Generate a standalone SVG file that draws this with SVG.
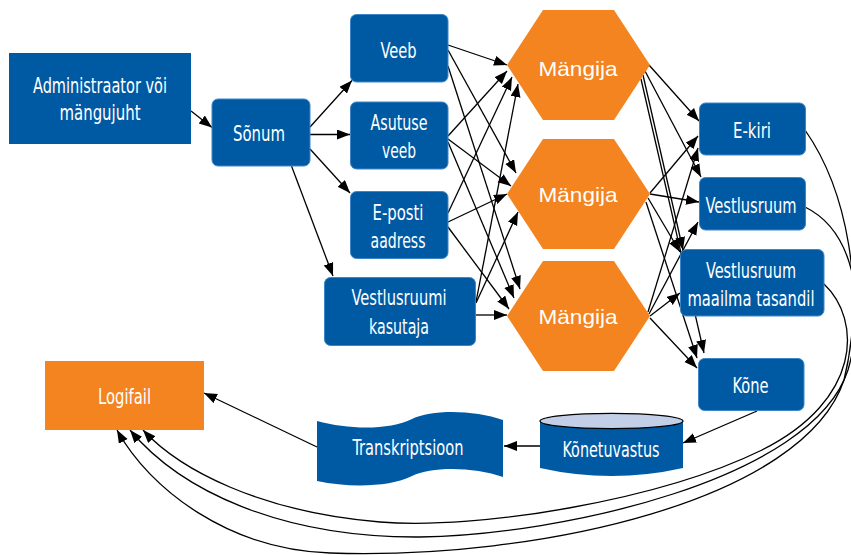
<svg xmlns="http://www.w3.org/2000/svg" width="851" height="555" viewBox="0 0 851 555">
  <defs>
    <marker id="arrow" markerUnits="userSpaceOnUse" markerWidth="14" markerHeight="11" refX="13" refY="5" orient="auto">
      <path d="M0,0 L13,5 L0,10 Z" fill="#000"/>
    </marker>
    <style>
      .box { fill: #005aa3; }
      .rbox { fill: #005aa3; stroke: #3f86c8; stroke-width: 1; }
      .orange { fill: #f3841f; }
      .lbl { font-family: "Liberation Sans Narrow", "DejaVu Sans Condensed", "Liberation Sans", sans-serif; font-size: 21px; fill: #fff; text-anchor: middle; }
      .hx { font-family: "Liberation Sans", "Open Sans", sans-serif; font-size: 21px; fill: #fff; text-anchor: middle; }
      .edge { fill: none; stroke: #000; stroke-width: 1.3; marker-end: url(#arrow); }
    </style>
  </defs>

  <rect width="851" height="555" fill="#fff"/>

  <!-- connectors -->
  <g id="connectors">
    <path class="edge" d="M191,111 L212,127.5"/>
    <path class="edge" d="M310,127 L352,80.5"/>
    <path class="edge" d="M310,134.5 L350,134.5"/>
    <path class="edge" d="M310,149 L350,193"/>
    <path class="edge" d="M291.5,166 L333,276"/>

    <!-- sources to Mängija 1 -->
    <path class="edge" d="M448,45 L507,65"/>
    <path class="edge" d="M448,136 L507,71"/>
    <path class="edge" d="M448,213 L512,77"/>
    <path class="edge" d="M476,302 L518,84"/>
    <!-- sources to Mängija 2 -->
    <path class="edge" d="M448,50 L516,173"/>
    <path class="edge" d="M448,139 L511,186"/>
    <path class="edge" d="M448,222 L507,194"/>
    <path class="edge" d="M476,303 L518,212"/>
    <!-- sources to Mängija 3 -->
    <path class="edge" d="M448,66 L520,289"/>
    <path class="edge" d="M448,142 L514,298"/>
    <path class="edge" d="M448,227 L509,309"/>
    <path class="edge" d="M476,315 L507,315"/>

    <!-- Mängija 1 to channels -->
    <path class="edge" d="M649,65 L699,121"/>
    <path class="edge" d="M645,71 L701,177"/>
    <path class="edge" d="M643,75 L683,250"/>
    <path class="edge" d="M641,79 L704,353"/>
    <!-- Mängija 2 to channels -->
    <path class="edge" d="M650,193 L698,136"/>
    <path class="edge" d="M650,194 L699,202"/>
    <path class="edge" d="M648,198 L680,252"/>
    <path class="edge" d="M646,202 L697,358"/>
    <!-- Mängija 3 to channels -->
    <path class="edge" d="M648,312 L698,148"/>
    <path class="edge" d="M649,314 L698,222"/>
    <path class="edge" d="M650,316 L680,293"/>
    <path class="edge" d="M650,318 L697,368"/>

    <!-- speech pipeline -->
    <path class="edge" d="M757,411 L683,443"/>
    <path class="edge" d="M540,446 L504,446"/>
    <path class="edge" d="M317,447 L204,393"/>

    <!-- channels to log file -->
    <path class="edge" d="M805,130 C847,190 866,290 844,380 C804,500 540,560 330,553 C230,550 150,490 117,430"/>
    <path class="edge" d="M805,207 C852,230 868,300 848,370 C812,480 560,535 420,537 C280,538 180,490 130,430"/>
    <path class="edge" d="M824,284 C862,320 862,400 762,450 C660,500 480,530 380,522 C260,512 180,470 143,430"/>
  </g>

  <!-- nodes -->
  <g id="admin">
    <rect class="box" x="9" y="53" width="182" height="91"/>
    <text class="lbl" x="100" y="93" textLength="134" lengthAdjust="spacingAndGlyphs">Administraator või</text>
    <text class="lbl" x="100" y="120" textLength="81" lengthAdjust="spacingAndGlyphs">mängujuht</text>
  </g>
  <g id="sonum">
    <rect class="rbox" x="212" y="99" width="98" height="67" rx="6"/>
    <text class="lbl" x="259" y="140.5" textLength="52" lengthAdjust="spacingAndGlyphs">Sõnum</text>
  </g>
  <g id="veeb">
    <rect class="rbox" x="350.5" y="14.5" width="97.5" height="67.5" rx="6"/>
    <text class="lbl" x="398.5" y="57.5" textLength="36" lengthAdjust="spacingAndGlyphs">Veeb</text>
  </g>
  <g id="asutuse-veeb">
    <rect class="rbox" x="350.5" y="102" width="97.5" height="67" rx="6"/>
    <text class="lbl" x="399" y="129.5" textLength="57" lengthAdjust="spacingAndGlyphs">Asutuse</text>
    <text class="lbl" x="399" y="158" textLength="34" lengthAdjust="spacingAndGlyphs">veeb</text>
  </g>
  <g id="e-posti">
    <rect class="rbox" x="350.5" y="191.5" width="97.5" height="67" rx="6"/>
    <text class="lbl" x="398" y="219.5" textLength="51" lengthAdjust="spacingAndGlyphs">E-posti</text>
    <text class="lbl" x="398" y="247.5" textLength="55" lengthAdjust="spacingAndGlyphs">aadress</text>
  </g>
  <g id="vestlusruumi-kasutaja">
    <rect class="rbox" x="324.5" y="277.5" width="151" height="68" rx="6"/>
    <text class="lbl" x="399" y="305" textLength="95" lengthAdjust="spacingAndGlyphs">Vestlusruumi</text>
    <text class="lbl" x="399" y="333.5" textLength="60" lengthAdjust="spacingAndGlyphs">kasutaja</text>
  </g>

  <g id="mangija-1">
    <polygon class="orange" points="507,65 543,10 614,10 650,65 614,120 543,120"/>
    <text class="hx" x="578" y="75.5" textLength="79" lengthAdjust="spacingAndGlyphs">Mängija</text>
  </g>
  <g id="mangija-2">
    <polygon class="orange" points="507,194 543,139 614,139 650,194 614,249 543,249"/>
    <text class="hx" x="578" y="202" textLength="79" lengthAdjust="spacingAndGlyphs">Mängija</text>
  </g>
  <g id="mangija-3">
    <polygon class="orange" points="507,316 543,261 614,261 650,316 614,371 543,371"/>
    <text class="hx" x="578" y="324" textLength="79" lengthAdjust="spacingAndGlyphs">Mängija</text>
  </g>

  <g id="e-kiri">
    <rect class="rbox" x="699.5" y="103" width="106" height="52" rx="6"/>
    <text class="lbl" x="752" y="137.5" textLength="38" lengthAdjust="spacingAndGlyphs">E-kiri</text>
  </g>
  <g id="vestlusruum">
    <rect class="rbox" x="699.5" y="177.5" width="106" height="52.5" rx="6"/>
    <text class="lbl" x="751" y="212.5" textLength="91" lengthAdjust="spacingAndGlyphs">Vestlusruum</text>
  </g>
  <g id="vestlusruum-maailm">
    <rect class="rbox" x="680.5" y="249.5" width="143.5" height="66.5" rx="6"/>
    <text class="lbl" x="751" y="277.5" textLength="90" lengthAdjust="spacingAndGlyphs">Vestlusruum</text>
    <text class="lbl" x="751" y="305.5" textLength="127" lengthAdjust="spacingAndGlyphs">maailma tasandil</text>
  </g>
  <g id="kone">
    <rect class="rbox" x="698.5" y="358.5" width="105.5" height="52" rx="6"/>
    <text class="lbl" x="750.5" y="393" textLength="36" lengthAdjust="spacingAndGlyphs">Kõne</text>
  </g>

  <g id="konetuvastus">
    <path class="box" d="M540,421 L540,468 Q611.5,484 683,468 L683,421 Z"/>
    <ellipse cx="611.5" cy="421" rx="71.5" ry="7.7" fill="#c3cfe6" stroke="#000" stroke-width="1.3"/>
    <text class="lbl" x="611" y="456.5" textLength="97" lengthAdjust="spacingAndGlyphs">Kõnetuvastus</text>
  </g>
  <g id="transkriptsioon">
    <path class="box" d="M317,421 C350,430 390,430 412,419 C432,409 475,410 503,420 L503,477 C475,467 432,466 412,476 C390,487 350,488 317,481 Z"/>
    <text class="lbl" x="408" y="455" textLength="111" lengthAdjust="spacingAndGlyphs">Transkriptsioon</text>
  </g>
  <g id="logifail">
    <rect class="orange" x="45" y="361" width="159" height="69"/>
    <text class="lbl" x="124.5" y="403.5" textLength="53" lengthAdjust="spacingAndGlyphs">Logifail</text>
  </g>
</svg>
